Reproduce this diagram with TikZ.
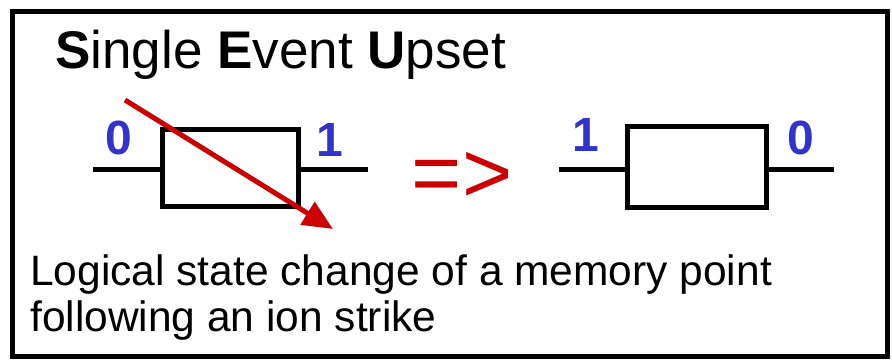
\documentclass[tikz,border=0pt]{standalone}
\usepackage{fontspec}
\setmainfont{Liberation Sans}
\usetikzlibrary{arrows.meta}
\definecolor{digblue}{HTML}{3333CC}
\definecolor{strikered}{HTML}{CC0000}
\tikzset{
  wire/.style={line width=5pt},
  cellbox/.style={draw, line width=5pt, minimum width=136pt, minimum height=77pt, inner sep=0pt},
  bit/.style={text=digblue, font=\fontsize{48}{48}\selectfont\bfseries, inner sep=0pt, anchor=base},
  txt/.style={font=\fontsize{42.5}{48}\selectfont, inner sep=0pt, anchor=base west},
}
\begin{document}
\begin{tikzpicture}[x=1pt,y=-1pt]
\useasboundingbox (0,0) rectangle (892,363);
\draw[line width=5pt] (12,12) rectangle (887,357);
\node[font=\fontsize{53}{53}\selectfont, inner sep=0pt, anchor=base west] (title) at (55,69) {\textbf{S}ingle \textbf{E}vent \textbf{U}pset};
% left cell
\node[cellbox] (c1) at (230,168.5) {};
\coordinate (l1a) at (93,170);
\coordinate (l1b) at (368,170);
\draw[wire] (l1a) -- (c1.west |- l1a);
\draw[wire] (c1.east |- l1b) -- (l1b);
\node[bit] (z1) at (119,155) {0};
\node[bit] (o1) at (330,157) {1};
% strike
\coordinate (s0) at (125,100);
\coordinate (s1) at (333,229);
\draw[strikered, line width=5pt, -{Triangle[length=30pt,width=26pt]}] (s0) -- (s1);
% arrow text
\node[text=strikered, font=\fontsize{86}{86}\selectfont, inner sep=0pt, anchor=base] (imp) at (462,203) {=>};
% right cell
\node[cellbox, minimum width=139pt, minimum height=81pt] (c2) at (696.5,167.5) {};
\coordinate (l2a) at (559,170);
\coordinate (l2b) at (834,170);
\draw[wire] (l2a) -- (c2.west |- l2a);
\draw[wire] (c2.east |- l2b) -- (l2b);
\node[bit] (o2) at (586,152) {1};
\node[bit] (z2) at (801,155) {0};
% description
\node[txt] (d1) at (30,286) {Logical state change of a memory point};
\node[txt] (d2) at (30,332) {following an ion strike};
\end{tikzpicture}
\end{document}
